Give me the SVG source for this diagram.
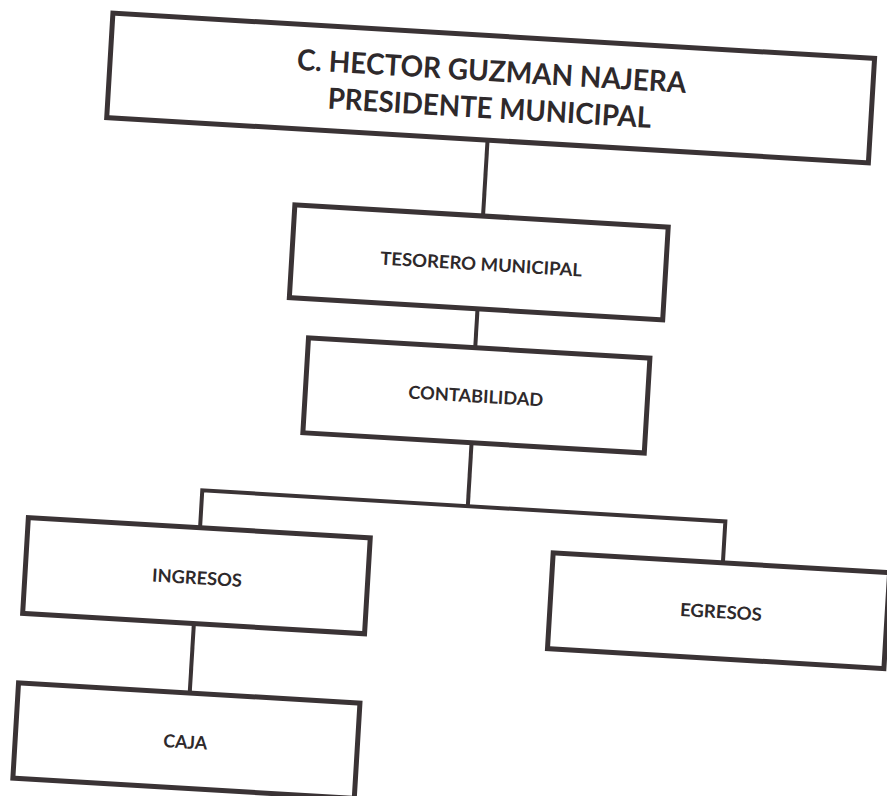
<svg xmlns="http://www.w3.org/2000/svg" width="887" height="796" viewBox="0 0 887 796">
<style>
.box{fill:#fff;stroke:#3a3335;stroke-width:5;stroke-linejoin:miter}
.ln{fill:none;stroke:#3a3335;stroke-width:4}
.t{font-family:Lato,"Open Sans","Liberation Sans",sans-serif;font-weight:bold;fill:#2e292b;text-anchor:middle}
.big{font-size:29px}
.sm{font-size:18px}
</style>
<rect width="887" height="796" fill="#fff"/>
<g transform="rotate(3.4)">
<g id="connectors">
<line class="ln" x1="495" y1="111" x2="495" y2="187"/>
<line class="ln" x1="495" y1="280" x2="495" y2="319"/>
<line class="ln" x1="497" y1="414" x2="497" y2="477.5"/>
<polyline class="ln" points="231,515 231,477.5 755,477.5 755,519"/>
<line class="ln" x1="230.5" y1="611" x2="230.5" y2="680"/>
</g>
<g id="presidente">
<rect class="box" x="113.5" y="6.5" width="763" height="104.5"/>
<text class="t big" x="495" y="52" textLength="390" lengthAdjust="spacingAndGlyphs">C. HECTOR GUZMAN NAJERA</text>
<text class="t big" x="495" y="89" textLength="324" lengthAdjust="spacingAndGlyphs">PRESIDENTE MUNICIPAL</text>
</g>
<g id="tesorero">
<rect class="box" x="306.5" y="187" width="374" height="93"/>
<text class="t sm" x="496" y="241.5" textLength="202" lengthAdjust="spacingAndGlyphs">TESORERO MUNICIPAL</text>
</g>
<g id="contabilidad">
<rect class="box" x="328" y="319" width="342" height="95"/>
<text class="t sm" x="498.5" y="373.5" textLength="135" lengthAdjust="spacingAndGlyphs">CONTABILIDAD</text>
</g>
<g id="ingresos">
<rect class="box" x="59" y="515" width="342.5" height="96"/>
<text class="t sm" x="231" y="571.5" textLength="90" lengthAdjust="spacingAndGlyphs">INGRESOS</text>
</g>
<g id="egresos">
<rect class="box" x="585" y="519" width="337" height="96"/>
<text class="t sm" x="756" y="574.5" textLength="82" lengthAdjust="spacingAndGlyphs">EGRESOS</text>
</g>
<g id="caja">
<rect class="box" x="59" y="680.5" width="342" height="95.5"/>
<text class="t sm" x="229" y="736" textLength="44" lengthAdjust="spacingAndGlyphs">CAJA</text>
</g>
</g>
</svg>
